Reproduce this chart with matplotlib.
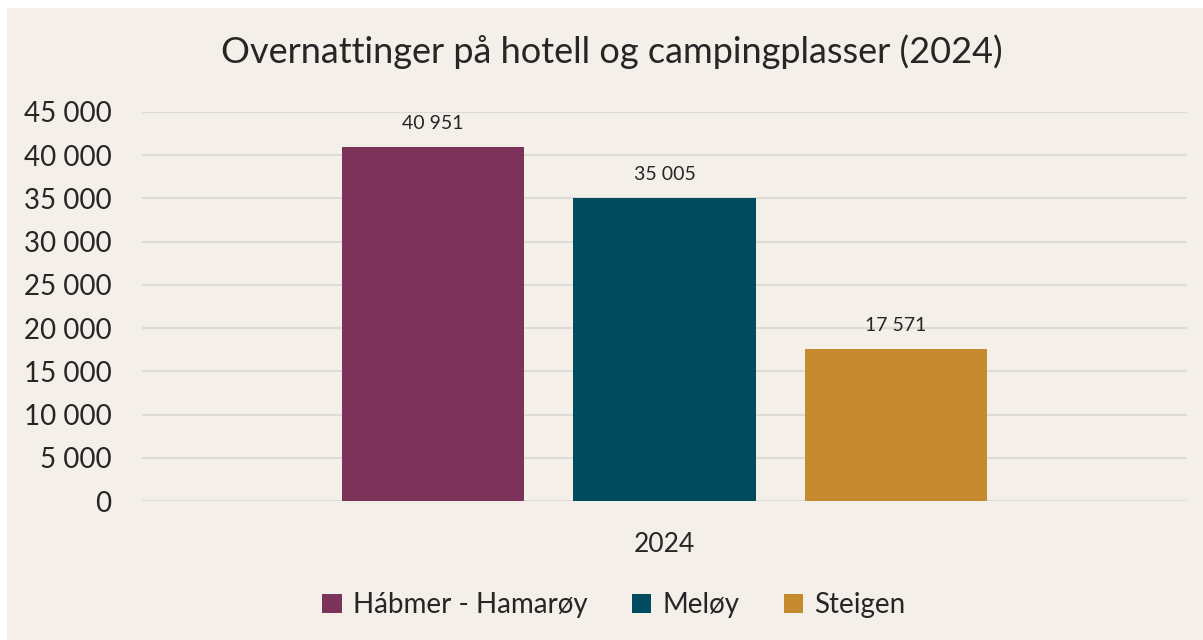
import matplotlib
matplotlib.use('Agg')
from matplotlib import pyplot as plt
from matplotlib.patches import Rectangle, Patch
from matplotlib.ticker import FuncFormatter

# Data
year = '2024'
kommuner = ['Hábmer - Hamarøy', 'Meløy', 'Steigen']
overnattinger = [40951, 35005, 17571]
farger = ['#7B3359', '#004C5E', '#C58A2E']

bg = '#F5EFE9'
txt = '#262626'
plt.rcParams['font.family'] = ['Lato', 'DejaVu Sans']

W, H = 1203, 640
fig = plt.figure(figsize=(W / 100, H / 100), dpi=100)
fig.patch.set_facecolor('white')
fig.patches.append(Rectangle((7 / W, 0), 1 - 7 / W, 1 - 8 / H, transform=fig.transFigure,
                             facecolor=bg, edgecolor='none', zorder=-10))

ax = fig.add_axes([142 / W, 1 - 501 / H, (1187 - 142) / W, (501 - 112) / H])
ax.set_facecolor(bg)

x = range(len(kommuner))
bars = ax.bar(x, overnattinger, width=0.79, color=farger, zorder=3)

def space_fmt(v, pos=None):
    return f'{int(v):,}'.replace(',', ' ')

for b, v in zip(bars, overnattinger):
    ax.annotate(space_fmt(v), (b.get_x() + b.get_width() / 2, v), xytext=(0, 11),
                textcoords='offset points', ha='center', va='bottom', fontsize=14, color=txt)

ax.set_ylim(0, 45000)
ax.set_yticks(range(0, 45001, 5000))
ax.yaxis.set_major_formatter(FuncFormatter(space_fmt))
ax.set_xlim(-1.257, 3.257)
ax.set_xticks([1])
ax.set_xticklabels([year])
ax.tick_params(axis='y', length=0, pad=22, labelsize=20, labelcolor=txt)
ax.tick_params(axis='x', length=0, pad=22, labelsize=19, labelcolor=txt)
ax.grid(axis='y', color='#DEDAD7', linewidth=1.5, zorder=0)
for s in ax.spines.values():
    s.set_visible(False)

fig.text(612 / W, 1 - 52 / H, 'Overnattinger på hotell og campingplasser (2024)',
         ha='center', va='center', fontsize=26, color=txt)

handles = [Patch(facecolor=c, label=k) for c, k in zip(farger, kommuner)]
fig.legend(handles=handles, loc='center', bbox_to_anchor=(614 / W, 1 - 605 / H), ncol=3,
           frameon=False, fontsize=20, labelcolor=txt, handlelength=0.7, handleheight=0.7,
           handletextpad=0.4, columnspacing=1.6)

fig.savefig('out.png', dpi=100, facecolor=fig.get_facecolor())
